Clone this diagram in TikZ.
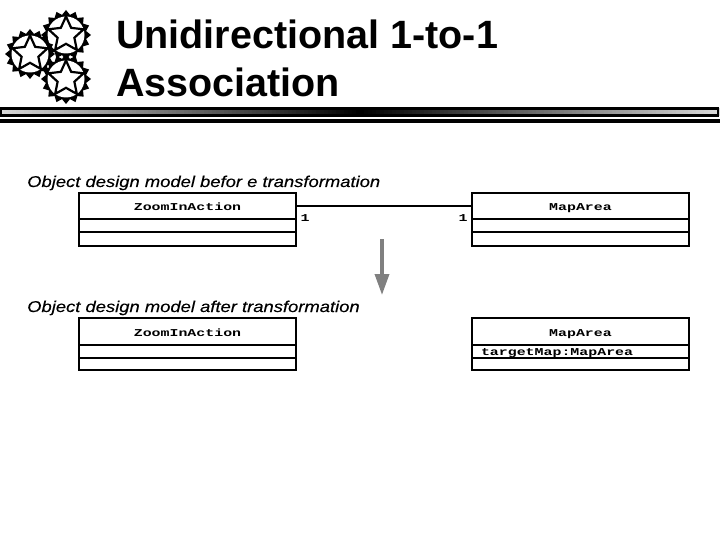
\documentclass[tikz,border=0pt]{standalone}
\usepackage{fontspec}
\setmainfont{Liberation Sans}
\newfontfamily\classfont[FakeStretch=1.42]{Liberation Mono}
\newfontfamily\captionfont[FakeStretch=1.18,ItalicFont={Liberation Sans Italic},ItalicFeatures={FakeBold=0.25}]{Liberation Sans}
\usetikzlibrary{positioning,arrows.meta,shapes.geometric}

\tikzset{
  classpart/.style={draw=black, line width=1.5pt, minimum width=217pt, inner sep=0pt, outer sep=0pt,
    text height=9pt, text depth=0pt, font=\classfont\bfseries\fontsize{10.5}{11}\selectfont},
  attrpart/.style={classpart, minimum width=0pt, text width=199pt, inner xsep=9pt, align=left, text height=7pt},
  caption/.style={anchor=base west, inner sep=0pt, font=\captionfont\itshape\fontsize{15.6}{18}\selectfont},
  multiplicity/.style={inner sep=0pt, font=\classfont\bfseries\fontsize{10.5}{11}\selectfont},
  gearring/.style={star, star points=16, star point ratio=1.22, minimum size=50pt, inner sep=0pt, fill=black},
  gearhole/.style={circle, minimum size=37pt, inner sep=0pt, fill=white},
  gearstar/.style={star, star points=5, star point ratio=2.1, minimum size=37pt, inner sep=0pt, draw=black, fill=white, line width=2.2pt}
}

\begin{document}
\begin{tikzpicture}[x=1pt,y=-1pt]
\useasboundingbox (0,0) rectangle (720,540);

% logo
\foreach \gname/\gx/\gy in {top/66/35, left/30/54, bottom/66/79} {
  \node [gearring] (ring\gname) at (\gx,\gy) {};
  \node [gearhole] (hole\gname) at (\gx,\gy) {};
  \node [gearstar] (star\gname) at (\gx,\gy) {};
}

% title
\node [anchor=north west, inner sep=0pt, align=left, font=\bfseries\fontsize{39.5}{48}\selectfont] (title) at (116,20)
  {Unidirectional 1-to-1\\Association};

% rule
\foreach \i in {0,...,179} {
  \pgfmathsetmacro{\barblack}{15+85*(1-abs(\i-89.5)/89.5)}
  \fill [black!\barblack] (\i*4,108) rectangle (\i*4+5,116);
}
\draw [line width=2.5pt] (1.2,108.5) rectangle (718,115.7);
\fill (0,118.7) rectangle (720,122.7);

% before
\node [caption] (before) at (27,187) {Object design model befor e transformation};
\node [classpart, minimum height=26pt] (zoomname) at (187.5,206) {ZoomInAction};
\node [classpart, minimum height=13pt, below=0pt of zoomname] (zoomattr) {};
\node [classpart, minimum height=14pt, below=0pt of zoomattr] (zoomop) {};
\node [classpart, minimum height=26pt] (mapname) at (580.5,206) {MapArea};
\node [classpart, minimum height=13pt, below=0pt of mapname] (mapattr) {};
\node [classpart, minimum height=14pt, below=0pt of mapattr] (mapop) {};
\draw [line width=1.5pt] (zoomname) -- (mapname);
\node [multiplicity] (onezoom) at (305,218) {1};
\node [multiplicity] (onemap) at (463,218) {1};

% transformation
\coordinate (arrowstart) at (382,239);
\coordinate (arrowend) at (382,295);
\draw [-{Triangle[width=14pt,length=21pt]}, draw=black!50, fill=black!50, line width=3.5pt] (arrowstart) -- (arrowend);

% after
\node [caption] (after) at (27,312) {Object design model after transformation};
\node [classpart, minimum height=27pt] (zoomnewname) at (187.5,331.5) {ZoomInAction};
\node [classpart, minimum height=13pt, below=0pt of zoomnewname] (zoomnewattr) {};
\node [classpart, minimum height=12pt, below=0pt of zoomnewattr] (zoomnewop) {};
\node [classpart, minimum height=27pt] (mapnewname) at (580.5,331.5) {MapArea};
\node [attrpart, minimum height=13pt, below=0pt of mapnewname] (mapnewattr) {targetMap:MapArea};
\node [classpart, minimum height=12pt, below=0pt of mapnewattr] (mapnewop) {};
\end{tikzpicture}
\end{document}
